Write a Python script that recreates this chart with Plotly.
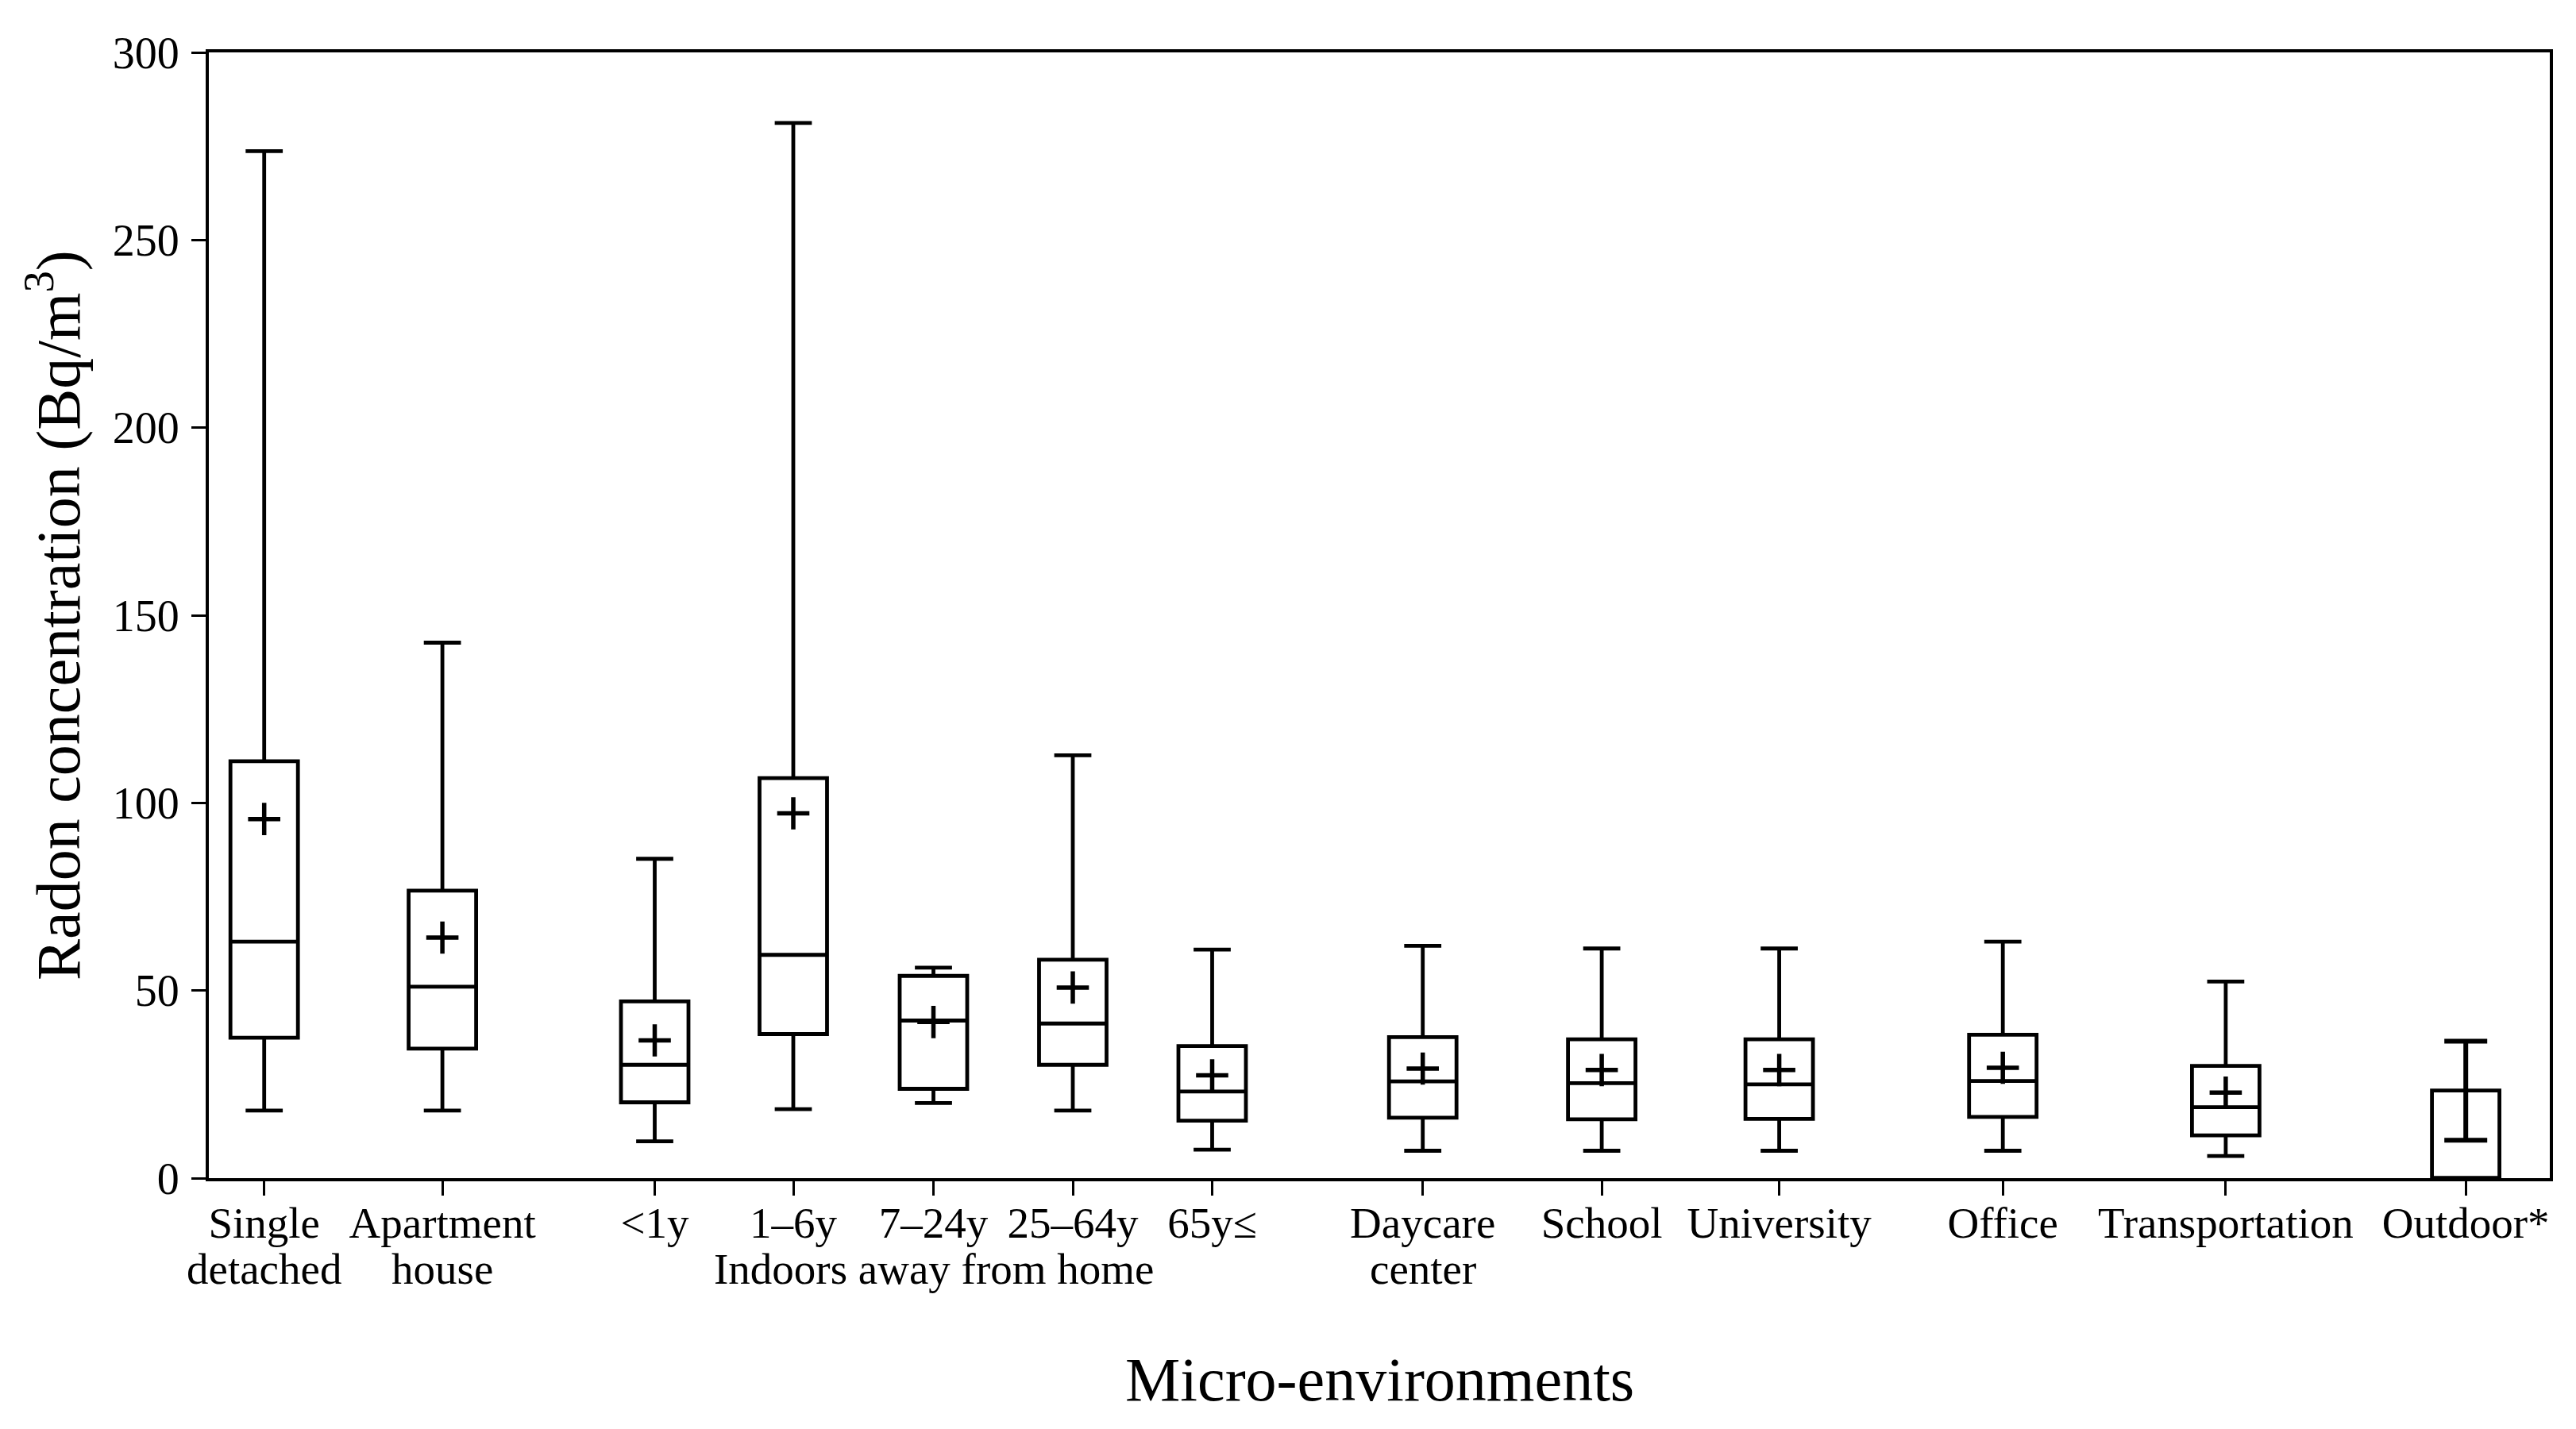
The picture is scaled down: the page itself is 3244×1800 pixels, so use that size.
import plotly.graph_objects as go

# ---- data ----
categories = ["Single", "Apartment", "<1y", "1–6y", "7–24y", "25–64y", "65y≤",
              "Daycare", "School", "University", "Office",
              "Transportation", "Outdoor*"]
second_line = ["detached", "house", "", "", "Indoors away from home", "", "",
               "center", "", "", "", "", ""]
positions = [0.697, 2.941, 5.615, 7.36, 9.125, 10.88, 12.635,
             15.287, 17.541, 19.776, 22.592, 25.399, 28.422]

box_upper  = [273.7, 142.7, 85.1, 281.2, 56.1, 112.7, 60.9, 61.9, 61.2, 61.2, 63.0, 52.4]
box_q3     = [111.1, 76.6, 47.1, 106.6, 53.9, 58.2, 35.2, 37.6, 37.0, 37.0, 38.2, 29.9]
box_median = [63.0, 51.0, 30.2, 59.5, 42.0, 41.2, 23.1, 25.8, 25.3, 25.0, 25.9, 18.9]
box_q1     = [37.4, 34.5, 20.2, 38.4, 23.8, 30.2, 15.3, 16.1, 15.7, 15.8, 16.3, 11.4]
box_lower  = [18.0, 18.0, 9.8, 18.4, 20.0, 18.0, 7.6, 7.3, 7.3, 7.3, 7.3, 5.9]
box_mean   = [95.7, 64.1, 36.7, 97.2, 41.6, 50.8, 27.4, 29.2, 28.8, 28.8, 29.4, 22.8]

outdoor_mean = [23.3]
outdoor_sd = [13.2]

y_ticks = [0, 50, 100, 150, 200, 250, 300]

FONT = "Liberation Serif"

fig = go.Figure()

n = len(box_q3)
fig.add_trace(go.Box(
    x=positions[:n], q1=box_q1, median=box_median, q3=box_q3,
    lowerfence=box_lower, upperfence=box_upper,
    width=0.85, whiskerwidth=0.55, boxpoints=False,
    line=dict(color="black", width=4.8), fillcolor="white",
    showlegend=False, hoverinfo="skip",
))

fig.add_trace(go.Scatter(
    x=positions[:n], y=box_mean, mode="markers",
    marker=dict(symbol="cross-thin", size=29, line=dict(color="black", width=5.5)),
    showlegend=False, hoverinfo="skip",
))

fig.add_trace(go.Bar(
    x=positions[n:], y=outdoor_mean, width=0.85,
    marker=dict(color="white", line=dict(color="black", width=4.8)),
    error_y=dict(type="data", array=outdoor_sd, visible=True,
                 color="black", thickness=6, width=27),
    showlegend=False, hoverinfo="skip",
))

fig.update_layout(
    width=3236, height=1792,
    margin=dict(l=255, r=33, t=58, b=316),
    paper_bgcolor="white", plot_bgcolor="white",
    font=dict(family=FONT, size=55, color="black"),
    bargap=0,
)

fig.update_xaxes(
    range=[0, 29.48], tickmode="array", tickvals=positions, ticktext=categories,
    ticks="outside", ticklen=18, tickwidth=3, tickcolor="black",
    showline=True, linecolor="black", linewidth=4, mirror=True,
    showgrid=False, zeroline=False,
    tickfont=dict(family=FONT, size=55, color="black"),
    tickangle=0, ticklabelstandoff=-13,
)
fig.update_yaxes(
    range=[0, 300], tickvals=y_ticks,
    ticks="outside", ticklen=18, tickwidth=3, tickcolor="black",
    showline=True, linecolor="black", linewidth=4, mirror=True,
    showgrid=False, zeroline=False,
    tickfont=dict(family=FONT, size=56, color="black"),
    ticklabelstandoff=4,
)

for xpos, txt in zip(positions, second_line):
    if txt:
        fig.add_annotation(
            text=txt, xref="x", yref="paper", x=xpos, y=-0.0811,
            xanchor="center", yanchor="middle", showarrow=False,
            font=dict(family=FONT, size=55, color="black"),
        )

fig.add_annotation(
    text="Micro-environments", xref="paper", yref="paper",
    x=0.5, y=-0.179, xanchor="center", yanchor="middle", showarrow=False,
    font=dict(family=FONT, size=78, color="black"),
)
fig.add_annotation(
    text="Radon concentration (Bq/m<sup>3</sup>)", xref="paper", yref="paper",
    x=-0.0665, y=0.5, xanchor="center", yanchor="middle", showarrow=False,
    textangle=-90, font=dict(family=FONT, size=78, color="black"),
)

fig.write_html("out.html")
